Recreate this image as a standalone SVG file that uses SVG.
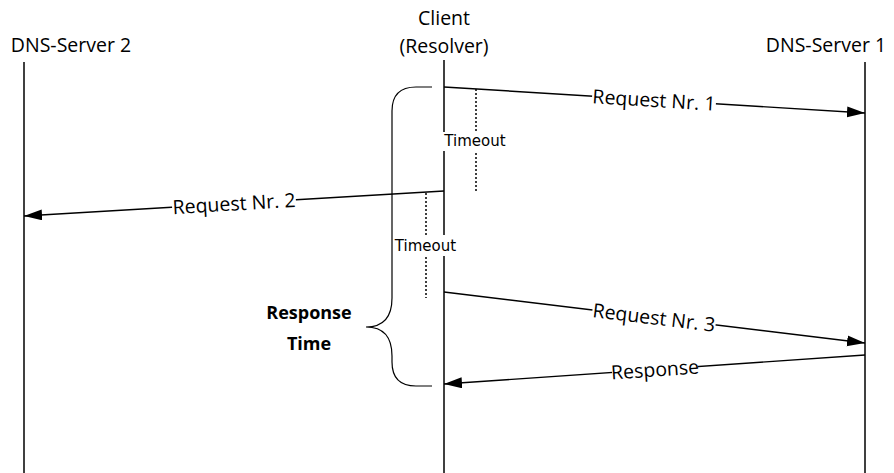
<svg xmlns="http://www.w3.org/2000/svg" width="894" height="473" viewBox="0 0 894 473">
  <style>
    .title { font-family: "Open Sans", "Liberation Sans", sans-serif; font-size: 19.5px; fill: #000; text-anchor: middle; }
    .msg { font-family: "Open Sans", "Liberation Sans", sans-serif; font-size: 19.5px; fill: #000; text-anchor: middle; }
    .timeout { font-family: "DejaVu Sans", sans-serif; font-size: 15px; fill: #000; text-anchor: middle; }
    .bold { font-family: "Open Sans", "Liberation Sans", sans-serif; font-size: 18px; font-weight: bold; fill: #000; text-anchor: middle; }
    .lifeline { stroke: #000; stroke-width: 1.5; fill: none; }
    .arrow { stroke: #000; stroke-width: 1.4; fill: none; marker-end: url(#head); }
    .dotted { stroke: #000; stroke-width: 1.5; stroke-dasharray: 2 2; fill: none; }
    .brace { stroke: #000; stroke-width: 1.2; fill: none; }
    .bg { fill: #fff; stroke: none; }
  </style>
  <defs>
    <marker id="head" markerUnits="userSpaceOnUse" markerWidth="18" markerHeight="12" refX="18" refY="5.5" orient="auto">
      <path d="M0,0 L18,5.5 L0,11 Z" fill="#000"/>
    </marker>
  </defs>
  <rect width="894" height="473" fill="#fff"/>

  <!-- participants -->
  <g id="dns-server-2">
    <text class="title" x="71" y="52">DNS-Server 2</text>
    <line class="lifeline" x1="24" y1="62" x2="24" y2="473"/>
  </g>
  <g id="client">
    <text class="title" x="444" y="25">Client</text>
    <text class="title" x="444" y="53">(Resolver)</text>
    <line class="lifeline" x1="444" y1="60" x2="444" y2="473"/>
  </g>
  <g id="dns-server-1">
    <text class="title" x="826" y="52">DNS-Server 1</text>
    <line class="lifeline" x1="865" y1="62" x2="865" y2="473"/>
  </g>

  <!-- response-time brace -->
  <g id="response-time">
    <path class="brace" d="M432,87 H416 Q392,87 392,111 V298 Q392,327 366,327 Q392,327 392,356 V362 Q392,386 416,386 H432"/>
    <text class="bold" x="309" y="319">Response</text>
    <text class="bold" x="309" y="350">Time</text>
  </g>

  <!-- timeouts -->
  <g id="timeout-1">
    <line class="dotted" x1="476" y1="89" x2="476" y2="193"/>
    <rect class="bg" x="442" y="132" width="66" height="19"/>
    <text class="timeout" x="475" y="146">Timeout</text>
  </g>
  <g id="timeout-2">
    <line class="dotted" x1="426" y1="193" x2="426" y2="298"/>
    <rect class="bg" x="393" y="235" width="65" height="21"/>
    <text class="timeout" x="425.5" y="251">Timeout</text>
  </g>

  <!-- messages -->
  <g id="connectors">
    <line class="arrow" x1="444" y1="87" x2="865" y2="113"/>
    <line class="arrow" x1="444" y1="191" x2="24" y2="216"/>
    <line class="arrow" x1="444" y1="292" x2="865" y2="343"/>
    <line class="arrow" x1="865" y1="355" x2="444" y2="384"/>

    <g transform="translate(654,100) rotate(3.5)">
      <rect class="bg" x="-62" y="-10" width="124" height="20"/>
      <text class="msg" y="7">Request Nr. 1</text>
    </g>
    <g transform="translate(234,203.5) rotate(-3.4)">
      <rect class="bg" x="-62" y="-10" width="124" height="20"/>
      <text class="msg" y="7">Request Nr. 2</text>
    </g>
    <g transform="translate(654,317.5) rotate(6.9)">
      <rect class="bg" x="-62" y="-10" width="124" height="20"/>
      <text class="msg" y="7">Request Nr. 3</text>
    </g>
    <g transform="translate(655,369.5) rotate(-3.95)">
      <rect class="bg" x="-43" y="-10" width="86" height="20"/>
      <text class="msg" y="7">Response</text>
    </g>
  </g>
</svg>
